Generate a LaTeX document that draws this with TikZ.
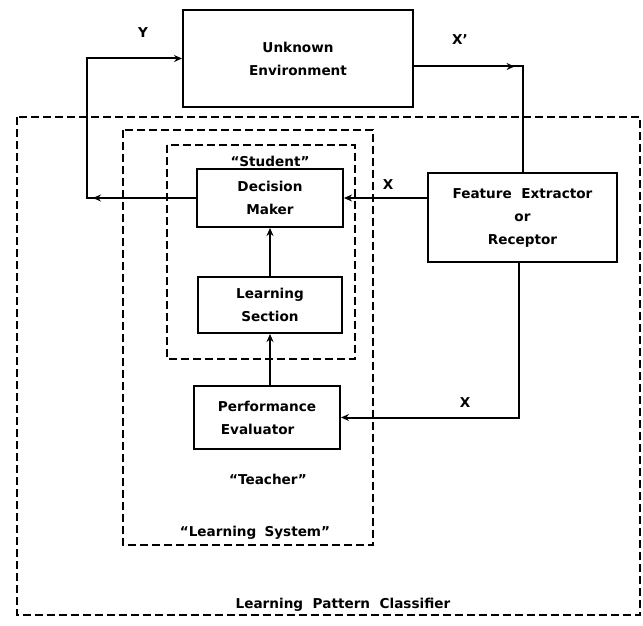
\documentclass[tikz,border=0pt]{standalone}
\usepackage{fontspec}
\setmainfont{DejaVu Sans}
\usetikzlibrary{arrows.meta,decorations.markings}
\begin{document}
\begin{tikzpicture}[x=1pt,y=-1pt,
  txt/.style={font=\fontsize{13.6}{23}\selectfont\bfseries, align=center, inner sep=0pt},
  blk/.style={draw, line width=2pt, txt, rectangle},
  dbox/.style={draw, line width=1.8pt, dash pattern=on 8pt off 4pt},
  conn/.style={line width=2pt, -{Stealth[length=8pt,width=7pt]}},
  plain/.style={line width=2pt},
  midarrow/.style={postaction={decorate, decoration={markings,
      mark=at position #1 with {\arrow{Stealth[length=8pt,width=7pt]}}}}}
]
\useasboundingbox (0,0) rectangle (643,626);
% dashed enclosures
\draw[dbox] (17,117) rectangle (640,615);
\draw[dbox] (123,130) rectangle (373,545);
\draw[dbox] (167,145) rectangle (355,359);
% blocks
\node[blk, minimum width=230pt, minimum height=97pt] (env) at (298,58.5) {Unknown\\Environment};
\node[blk, minimum width=189pt, minimum height=89pt] (fe) at (522.5,217.5) {Feature\hspace{0.7em}Extractor\\or\\Receptor};
\node[blk, minimum width=146pt, minimum height=58pt] (dm) at (270,198) {Decision\\Maker};
\node[blk, minimum width=144pt, minimum height=56pt] (ls) at (270,305) {Learning\\Section};
\node[blk, minimum width=146pt, minimum height=63pt, align=left] (pe) at (267,417.5) {Performance\\\hspace*{3pt}Evaluator};
% labels
\node[txt] (ylab) at (143,33) {Y};
\node[txt] (xplab) at (460,40) {X'};
\node[txt] (x1lab) at (388,185) {X};
\node[txt] (x2lab) at (465,403) {X};
\node[txt] (stud) at (270,161) {``Student''};
\node[txt] (teach) at (268,479) {``Teacher''};
\node[txt] (lsys) at (255,533) {``Learning\hspace{0.6em}System''};
\node[txt] (lpc) at (343,605) {Learning\hspace{0.7em}Pattern\hspace{0.7em}Classifier};
% connectors
\coordinate (yc) at (87,198);
\draw[conn, midarrow=0.3] (dm.west) -- (yc) |- (env.west);
\draw[plain, midarrow=0.47] ([yshift=-8pt]env.east) -| (fe.north);
\draw[conn] (fe.west |- dm.east) -- (dm.east);
\draw[conn] ([xshift=-4pt]fe.south) |- (pe.east);
\draw[conn] (ls.north) -- (dm.south);
\draw[conn] (ls.south |- pe.north) -- (ls.south);
\end{tikzpicture}
\end{document}
